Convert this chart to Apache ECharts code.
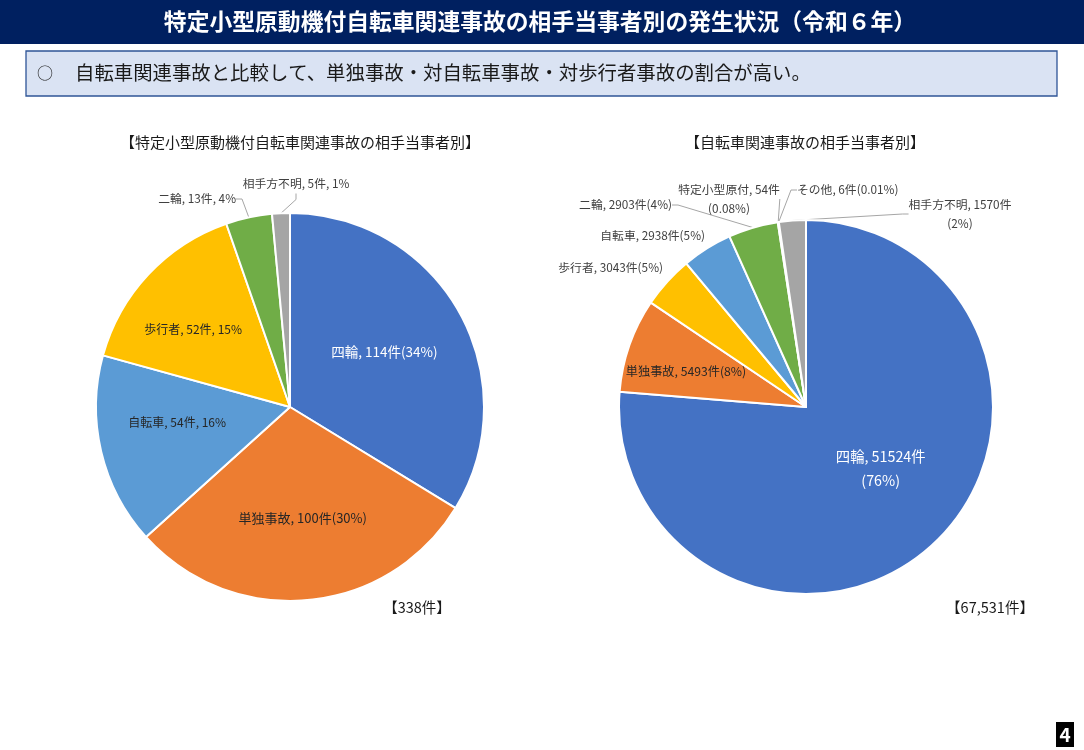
<!DOCTYPE html>
<html>
<head>
<meta charset="utf-8">
<script src="https://cdn.jsdelivr.net/npm/echarts@6/dist/echarts.min.js"></script>
<style>
html,body{margin:0;padding:0;background:#fff;}
#c{width:1084px;height:750px;}
</style>
</head>
<body>
<div id="c"></div>
<script>
// ---- data ----
const leftNames  = ['四輪','単独事故','自転車','歩行者','二輪','相手方不明'];
const leftValues = [114,100,54,52,13,5];
const leftLabels = ['四輪, 114件(34%)','単独事故, 100件(30%)','自転車, 54件, 16%','歩行者, 52件, 15%','二輪, 13件, 4%','相手方不明, 5件, 1%'];
const leftTotal  = '【338件】';

const rightNames  = ['四輪','単独事故','歩行者','自転車','二輪','特定小型原付','その他','相手方不明'];
const rightValues = [51524,5493,3043,2938,2903,54,6,1570];
const rightLabels = ['四輪, 51524件\n(76%)','単独事故, 5493件(8%)','歩行者, 3043件(5%)','自転車, 2938件(5%)','二輪, 2903件(4%)','特定小型原付, 54件\n(0.08%)','その他, 6件(0.01%)','相手方不明, 1570件\n(2%)'];
const rightTotal  = '【67,531件】';

const headerTitle = '特定小型原動機付自転車関連事故の相手当事者別の発生状況（令和６年）';
const boxMark = '○';
const boxText = '自転車関連事故と比較して、単独事故・対自転車事故・対歩行者事故の割合が高い。';
const leftTitle = '【特定小型原動機付自転車関連事故の相手当事者別】';
const rightTitle = '【自転車関連事故の相手当事者別】';
const pageNo = '4';

// ---- styles ----
const FONT = '"Noto Sans CJK JP", "Noto Sans", sans-serif';
const colorMap = {
  '四輪':'#4472C4','単独事故':'#ED7D31','自転車':'#5B9BD5','歩行者':'#FFC000',
  '二輪':'#70AD47','相手方不明':'#A5A5A5','特定小型原付':'#264478','その他':'#9E480E'
};
// label placement: inside (radius fraction + pixel nudge) or outside (offset from pie centre)
const leftLabelStyle = {
  '四輪':{inside:0.57,nudge:[-5,1],color:'#ffffff',size:13.5},
  '単独事故':{inside:0.58,nudge:[2,-4],color:'#262626',size:13},
  '自転車':{inside:0.59,nudge:[2,-12],color:'#262626',size:12},
  '歩行者':{inside:0.65,nudge:[-2,11],color:'#262626',size:12},
  '二輪':{at:[-54,-208],align:'right'},
  '相手方不明':{at:[6,-223],align:'center'}
};
const rightLabelStyle = {
  '四輪':{inside:0.51,nudge:[8,-11],color:'#ffffff',size:14.3},
  '単独事故':{inside:0.67,nudge:[2,7],color:'#262626',size:12.2},
  '歩行者':{at:[-143,-139],align:'right',noLine:true},
  '自転車':{at:[-101,-171],align:'right',noLine:true},
  '二輪':{at:[-134,-202],align:'right'},
  '特定小型原付':{at:[-77,-208],align:'center'},
  'その他':{at:[-9,-217],align:'left'},
  '相手方不明':{at:[154,-193],align:'center'}
};

const LEFT_C = [290,407], LEFT_R = 194;
const RIGHT_C = [806,407], RIGHT_R = 187;

function buildData(names, values, labels, styleMap){
  return names.map((n,i)=>{
    const st = styleMap[n];
    const item = {name:n, value:values[i], itemStyle:{color:colorMap[n]}};
    if (st.inside){
      item.label = {show:true, position:'inside', formatter:labels[i], color:st.color, fontSize:st.size, fontFamily:FONT, lineHeight:st.size*1.65};
      item.labelLine = {show:false};
    } else {
      item.label = {show:true, position:'outside', formatter:labels[i], color:'#404040', fontSize:11.8, fontFamily:FONT, lineHeight:19, align:st.align};
      item.labelLine = {show:!st.noLine, length:8, length2:6, lineStyle:{color:'#A6A6A6', width:1}};
    }
    return item;
  });
}

function labelLayoutFor(names, styleMap, center){
  return function(p){
    const st = styleMap[names[p.dataIndex]];
    if (!st) return {};
    if (st.inside){
      const lr = p.labelRect;
      const lx = lr.x + lr.width/2, ly = lr.y + lr.height/2;
      const k = st.inside/0.5;
      return {x: center[0] + (lx-center[0])*k + st.nudge[0], y: center[1] + (ly-center[1])*k + st.nudge[1], align:'center', verticalAlign:'middle'};
    }
    return {x: center[0] + st.at[0], y: center[1] + st.at[1], align: st.align, verticalAlign:'middle'};
  };
}

const chart = echarts.init(document.getElementById('c'), null, {renderer:'canvas'});
chart.setOption({
  animation:false,
  backgroundColor:'#ffffff',
  graphic:[
    {type:'rect', shape:{x:0,y:0,width:1084,height:44}, style:{fill:'#002060'}, z:0},
    {type:'text', x:540, y:21, style:{text:headerTitle, fill:'#ffffff', font:'bold 22.8px '+FONT, align:'center', verticalAlign:'middle'}},
    {type:'rect', shape:{x:26,y:51,width:1031,height:45}, style:{fill:'#DAE3F3', stroke:'#2F5597', lineWidth:1.3}},
    {type:'text', x:45, y:73, style:{text:boxMark, fill:'#1a1a1a', font:'16px '+FONT, align:'center', verticalAlign:'middle'}},
    {type:'text', x:75, y:73, style:{text:boxText, fill:'#1a1a1a', font:'19.4px '+FONT, align:'left', verticalAlign:'middle'}},
    {type:'text', x:300, y:142, style:{text:leftTitle, fill:'#1a1a1a', font:'15px '+FONT, align:'center', verticalAlign:'middle'}},
    {type:'text', x:805, y:142, style:{text:rightTitle, fill:'#1a1a1a', font:'15px '+FONT, align:'center', verticalAlign:'middle'}},
    {type:'text', x:417, y:607, style:{text:leftTotal, fill:'#1a1a1a', font:'14.5px '+FONT, align:'center', verticalAlign:'middle'}},
    {type:'text', x:990, y:607, style:{text:rightTotal, fill:'#1a1a1a', font:'14.5px '+FONT, align:'center', verticalAlign:'middle'}},
    {type:'rect', shape:{x:1056,y:722,width:18,height:25}, style:{fill:'#000000'}},
    {type:'text', x:1065, y:735, style:{text:pageNo, fill:'#ffffff', font:'bold 19px '+FONT, align:'center', verticalAlign:'middle'}}
  ],
  series:[
    {
      type:'pie', center:LEFT_C, radius:LEFT_R, startAngle:90, clockwise:true,
      avoidLabelOverlap:false, silent:true,
      itemStyle:{borderColor:'#ffffff', borderWidth:2},
      data:buildData(leftNames,leftValues,leftLabels,leftLabelStyle),
      labelLayout:labelLayoutFor(leftNames,leftLabelStyle,LEFT_C)
    },
    {
      type:'pie', center:RIGHT_C, radius:RIGHT_R, startAngle:90, clockwise:true,
      avoidLabelOverlap:false, silent:true,
      itemStyle:{borderColor:'#ffffff', borderWidth:2},
      data:buildData(rightNames,rightValues,rightLabels,rightLabelStyle),
      labelLayout:labelLayoutFor(rightNames,rightLabelStyle,RIGHT_C)
    }
  ]
});
</script>
</body>
</html>
